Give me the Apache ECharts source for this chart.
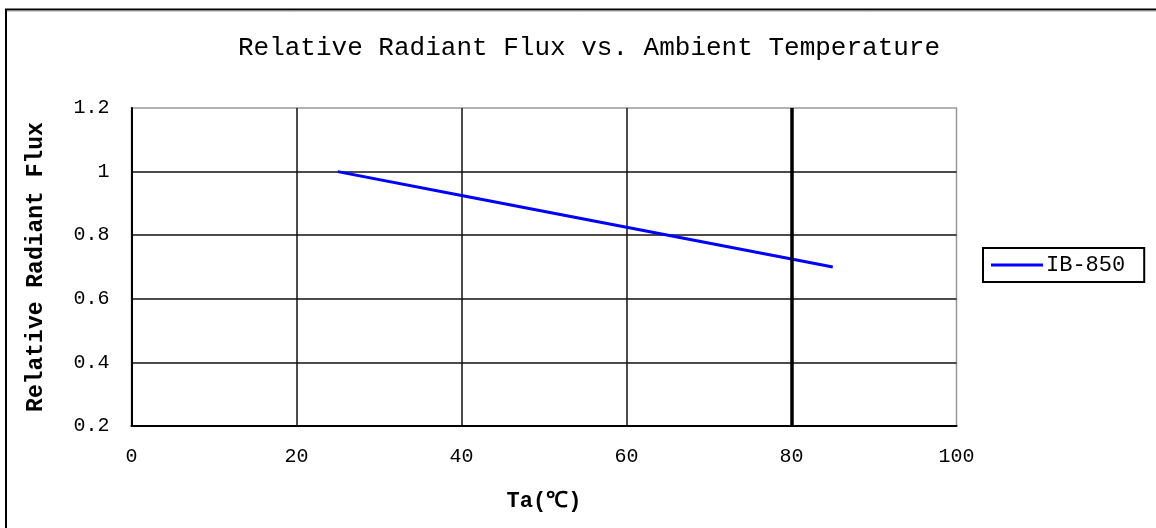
<!DOCTYPE html>
<html>
<head>
<meta charset="utf-8">
<script src="https://cdn.jsdelivr.net/npm/echarts@6/dist/echarts.min.js"></script>
<style>
html,body{margin:0;padding:0;background:#fff;}
#chart{width:1156px;height:528px;}
</style>
</head>
<body>
<div id="chart"></div>
<script>
const titleText = 'Relative Radiant Flux vs. Ambient Temperature';
const seriesName = 'IB-850';
const temperature = [25, 40, 60, 80, 85];
const relativeFlux = [1.0, 0.925, 0.825, 0.725, 0.7];
const xTicks = [0, 20, 40, 60, 80, 100];
const yTicks = [0.2, 0.4, 0.6, 0.8, 1.0, 1.2];

const font = '"Liberation Mono", "DejaVu Sans Mono", monospace';
const chart = echarts.init(document.getElementById('chart'));
chart.setOption({
  animation: false,
  backgroundColor: '#fff',
  title: {
    text: titleText,
    left: 584, top: 30, textAlign: 'center',
    textStyle: { fontFamily: font, fontSize: 26, fontWeight: 'normal', color: '#000' }
  },
  graphic: [
    { type: 'line', shape: { x1: 5, y1: 9.5, x2: 1156, y2: 9.5 }, style: { stroke: '#000', lineWidth: 2 } },
    { type: 'line', shape: { x1: 5, y1: 11, x2: 1156, y2: 11 }, style: { stroke: '#999', lineWidth: 1 } },
    { type: 'line', shape: { x1: 6, y1: 9, x2: 6, y2: 528 }, style: { stroke: '#000', lineWidth: 2 } }
  ],
  legend: {
    left: 983, top: 248,
    orient: 'vertical',
    data: [{ name: seriesName, icon: 'rect' }],
    itemWidth: 52, itemHeight: 3, itemGap: 0,
    padding: [6, 19, 6, 8],
    borderColor: '#000', borderWidth: 2,
    textStyle: { fontFamily: font, fontSize: 22, color: '#000', padding: [0, 0, 0, -2] }
  },
  grid: {
    left: 131.5, right: 199.5, top: 108, bottom: 102,
    show: true, borderColor: '#999', borderWidth: 1.5
  },
  xAxis: {
    type: 'value', min: xTicks[0], max: xTicks[xTicks.length - 1], interval: 20,
    name: 'Ta(℃)', nameLocation: 'middle', nameGap: 64,
    nameTextStyle: { fontFamily: font, fontSize: 22, fontWeight: 'bold', color: '#000' },
    axisLine: { show: true, lineStyle: { color: '#000', width: 2 } },
    axisTick: { show: false },
    axisLabel: { fontFamily: font, fontSize: 20, color: '#000', margin: 21 },
    splitLine: { show: true, showMaxLine: false, lineStyle: { color: '#111', width: 1.5 } }
  },
  yAxis: {
    type: 'value', min: yTicks[0], max: yTicks[yTicks.length - 1], interval: 0.2,
    name: 'Relative Radiant Flux', nameLocation: 'middle', nameGap: 84, nameRotate: 90,
    nameTextStyle: { fontFamily: font, fontSize: 23, fontWeight: 'bold', color: '#000' },
    axisLine: { show: true, lineStyle: { color: '#000', width: 2 } },
    axisTick: { show: false },
    axisLabel: { fontFamily: font, fontSize: 20, color: '#000', margin: 22 },
    splitLine: { show: true, showMaxLine: false, lineStyle: { color: '#111', width: 1.5 } }
  },
  series: [{
    name: seriesName,
    type: 'line',
    data: temperature.map((t, i) => [t, relativeFlux[i]]),
    showSymbol: false, symbol: 'none',
    lineStyle: { color: '#0000ff', width: 3 },
    itemStyle: { color: '#0000ff' },
    markLine: {
      silent: true, symbol: 'none', label: { show: false },
      lineStyle: { color: '#000', width: 3.5, type: 'solid' },
      data: [{ xAxis: 80 }]
    },
    z: 3
  }]
});
</script>
</body>
</html>
